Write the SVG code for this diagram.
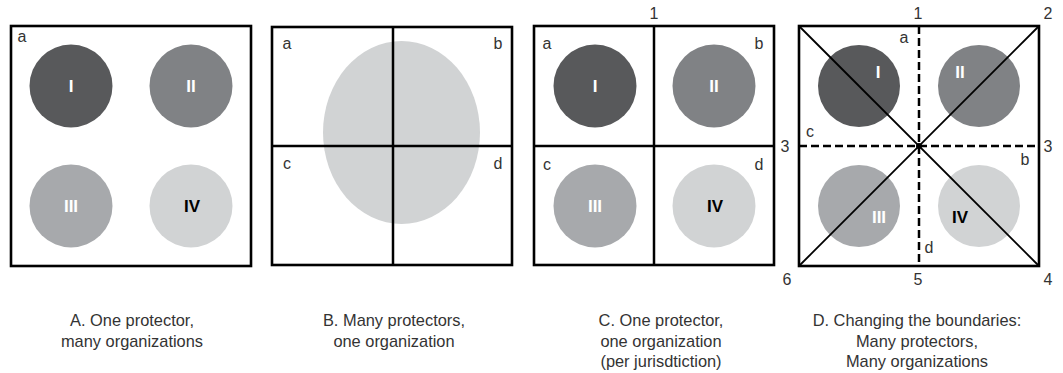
<svg xmlns="http://www.w3.org/2000/svg" width="1063" height="373" viewBox="0 0 1063 373">
<style>
.box{fill:none;stroke:#000;stroke-width:2.6}
.ln{stroke:#000;stroke-width:2.5;fill:none}
.diag{stroke:#000;stroke-width:1.8;fill:none}
.dash{stroke:#000;stroke-width:2.5;stroke-dasharray:8 4;fill:none}
.c1{fill:#58595b}.c2{fill:#808285}.c3{fill:#a7a9ac}.c4{fill:#d1d3d4}
.num{font-family:"Liberation Sans",Arial,sans-serif;font-weight:bold;font-size:17px;text-anchor:middle;fill:#fff}
.dk{fill:#000}
.lbl{font-family:"Liberation Sans",Arial,sans-serif;font-size:16px;text-anchor:middle;fill:#333}
.cap{font-family:"Liberation Sans",Arial,sans-serif;font-size:16.4px;text-anchor:middle;fill:#333}
</style>
<rect width="1063" height="373" fill="#fff"/>

<g id="panelA">
<rect class="box" x="11" y="26" width="240" height="240"/>
<circle class="c1" cx="71" cy="86" r="41.5"/>
<circle class="c2" cx="191" cy="86" r="41.5"/>
<circle class="c3" cx="71" cy="206" r="41.5"/>
<circle class="c4" cx="191" cy="206" r="41.5"/>
<text class="num" x="71" y="92">I</text>
<text class="num" x="191" y="92">II</text>
<text class="num" x="71" y="212">III</text>
<text class="num dk" x="192" y="212">IV</text>
<text class="lbl" x="22" y="42">a</text>
<text class="cap" x="132" y="326">A. One protector,</text>
<text class="cap" x="132" y="347">many organizations</text>
</g>

<g id="panelB">
<ellipse class="c4" cx="401.5" cy="132.5" rx="78.5" ry="91.5"/>
<rect class="box" x="272" y="27" width="240" height="238"/>
<line class="ln" x1="393" y1="27" x2="393" y2="265"/>
<line class="ln" x1="272" y1="146" x2="512" y2="146"/>
<text class="lbl" x="287" y="49">a</text>
<text class="lbl" x="498" y="49">b</text>
<text class="lbl" x="287" y="169">c</text>
<text class="lbl" x="498" y="169">d</text>
<text class="cap" x="394" y="326">B. Many protectors,</text>
<text class="cap" x="394" y="347">one organization</text>
</g>

<g id="panelC">
<circle class="c1" cx="595" cy="86" r="41.5"/>
<circle class="c2" cx="714" cy="86" r="41.5"/>
<circle class="c3" cx="595" cy="206" r="41.5"/>
<circle class="c4" cx="714" cy="206" r="41.5"/>
<rect class="box" x="534" y="26" width="240" height="239"/>
<line class="ln" x1="654" y1="26" x2="654" y2="265"/>
<line class="ln" x1="534" y1="146" x2="774" y2="146"/>
<text class="num" x="595" y="92">I</text>
<text class="num" x="714" y="92">II</text>
<text class="num" x="595" y="212">III</text>
<text class="num dk" x="715" y="212">IV</text>
<text class="lbl" x="654" y="19">1</text>
<text class="lbl" x="547" y="49">a</text>
<text class="lbl" x="759" y="49">b</text>
<text class="lbl" x="547" y="170">c</text>
<text class="lbl" x="759" y="170">d</text>
<text class="cap" x="661" y="326">C. One protector,</text>
<text class="cap" x="661" y="346.5">one organization</text>
<text class="cap" x="661" y="367">(per jurisdtiction)</text>
</g>

<g id="panelD">
<circle class="c1" cx="859" cy="86" r="41"/>
<circle class="c2" cx="979" cy="86" r="41"/>
<circle class="c3" cx="859" cy="206" r="41"/>
<circle class="c4" cx="979" cy="206" r="41"/>
<text class="num" x="878" y="78">I</text>
<text class="num" x="960" y="78">II</text>
<text class="num" x="879" y="223">III</text>
<text class="num dk" x="960" y="223">IV</text>
</g>

<g id="connectors">
<line class="diag" x1="799" y1="26" x2="1039" y2="266"/>
<line class="diag" x1="1039" y1="26" x2="799" y2="266"/>
<line class="dash" x1="919" y1="26" x2="919" y2="266"/>
<line class="dash" x1="799" y1="146" x2="1039" y2="146"/>
<circle cx="919" cy="146" r="3" fill="#000"/>
<rect class="box" x="799" y="26" width="240" height="240"/>
</g>

<g id="panelD-labels">
<text class="lbl" x="918" y="19">1</text>
<text class="lbl" x="1048" y="19">2</text>
<text class="lbl" x="904" y="43">a</text>
<text class="lbl" x="810" y="137">c</text>
<text class="lbl" x="785" y="152">3</text>
<text class="lbl" x="1048" y="152">3</text>
<text class="lbl" x="1025" y="165">b</text>
<text class="lbl" x="929" y="253">d</text>
<text class="lbl" x="787" y="285">6</text>
<text class="lbl" x="918" y="285">5</text>
<text class="lbl" x="1048" y="285">4</text>
<text class="cap" x="917" y="326">D. Changing the boundaries:</text>
<text class="cap" x="917" y="346.5">Many protectors,</text>
<text class="cap" x="917" y="367">Many organizations</text>
</g>
</svg>
